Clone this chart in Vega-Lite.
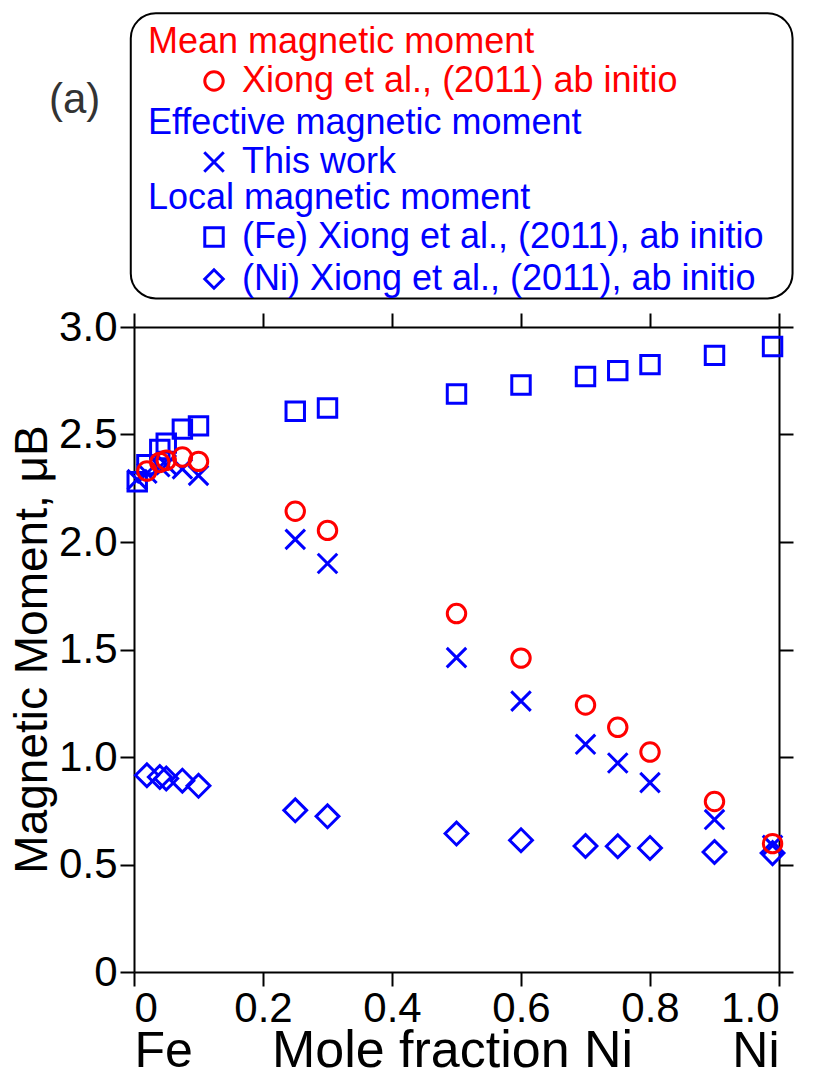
{
  "$schema": "https://vega.github.io/schema/vega-lite/v6.json",
  "width": 645,
  "height": 645,
  "autosize": {"type": "none"},
  "padding": {"left": 134, "top": 327, "right": 38, "bottom": 106},
  "background": "white",
  "config": {
    "font": "Liberation Sans",
    "view": {"stroke": null},
    "axis": {"grid": false, "domainColor": "black", "domainWidth": 2, "tickColor": "black", "tickWidth": 2, "tickSize": 14, "labelColor": "black", "labelFont": "Liberation Sans", "labelFontSize": 42, "titleColor": "black", "titleFont": "Liberation Sans", "titleFontWeight": "normal"},
    "legend": {"orient": "none", "direction": "vertical", "padding": 0, "titleFont": "Liberation Sans", "labelFont": "Liberation Sans", "titleFontSize": 36, "labelFontSize": 36, "titleFontWeight": "normal", "titleLimit": 700, "labelLimit": 700, "symbolStrokeWidth": 3, "symbolFillColor": "transparent", "symbolOffset": 48, "labelOffset": 10, "rowPadding": 6, "titlePadding": 2}
  },
  "data": {"values": [
    {"x": 0.005, "v": 2.28, "s": "Fe"},
    {"x": 0.02, "v": 2.36, "s": "Fe"},
    {"x": 0.04, "v": 2.43, "s": "Fe"},
    {"x": 0.05, "v": 2.46, "s": "Fe"},
    {"x": 0.075, "v": 2.525, "s": "Fe"},
    {"x": 0.1, "v": 2.54, "s": "Fe"},
    {"x": 0.25, "v": 2.608, "s": "Fe"},
    {"x": 0.3, "v": 2.623, "s": "Fe"},
    {"x": 0.5, "v": 2.688, "s": "Fe"},
    {"x": 0.6, "v": 2.73, "s": "Fe"},
    {"x": 0.7, "v": 2.77, "s": "Fe"},
    {"x": 0.75, "v": 2.797, "s": "Fe"},
    {"x": 0.8, "v": 2.825, "s": "Fe"},
    {"x": 0.9, "v": 2.868, "s": "Fe"},
    {"x": 0.99, "v": 2.909, "s": "Fe"},
    {"x": 0.02, "v": 0.915, "s": "Ni"},
    {"x": 0.04, "v": 0.907, "s": "Ni"},
    {"x": 0.05, "v": 0.9, "s": "Ni"},
    {"x": 0.075, "v": 0.89, "s": "Ni"},
    {"x": 0.1, "v": 0.866, "s": "Ni"},
    {"x": 0.25, "v": 0.752, "s": "Ni"},
    {"x": 0.3, "v": 0.724, "s": "Ni"},
    {"x": 0.5, "v": 0.644, "s": "Ni"},
    {"x": 0.6, "v": 0.613, "s": "Ni"},
    {"x": 0.7, "v": 0.586, "s": "Ni"},
    {"x": 0.75, "v": 0.585, "s": "Ni"},
    {"x": 0.8, "v": 0.577, "s": "Ni"},
    {"x": 0.9, "v": 0.558, "s": "Ni"},
    {"x": 0.99, "v": 0.553, "s": "Ni"},
    {"x": 0.005, "v": 2.29, "s": "Eff"},
    {"x": 0.02, "v": 2.32, "s": "Eff"},
    {"x": 0.04, "v": 2.35, "s": "Eff"},
    {"x": 0.05, "v": 2.36, "s": "Eff"},
    {"x": 0.075, "v": 2.34, "s": "Eff"},
    {"x": 0.1, "v": 2.31, "s": "Eff"},
    {"x": 0.25, "v": 2.012, "s": "Eff"},
    {"x": 0.3, "v": 1.9, "s": "Eff"},
    {"x": 0.5, "v": 1.462, "s": "Eff"},
    {"x": 0.6, "v": 1.26, "s": "Eff"},
    {"x": 0.7, "v": 1.059, "s": "Eff"},
    {"x": 0.75, "v": 0.972, "s": "Eff"},
    {"x": 0.8, "v": 0.881, "s": "Eff"},
    {"x": 0.9, "v": 0.709, "s": "Eff"},
    {"x": 0.99, "v": 0.589, "s": "Eff"},
    {"x": 0.02, "v": 2.33, "s": "Mean"},
    {"x": 0.04, "v": 2.37, "s": "Mean"},
    {"x": 0.05, "v": 2.38, "s": "Mean"},
    {"x": 0.075, "v": 2.395, "s": "Mean"},
    {"x": 0.1, "v": 2.375, "s": "Mean"},
    {"x": 0.25, "v": 2.143, "s": "Mean"},
    {"x": 0.3, "v": 2.054, "s": "Mean"},
    {"x": 0.5, "v": 1.667, "s": "Mean"},
    {"x": 0.6, "v": 1.46, "s": "Mean"},
    {"x": 0.7, "v": 1.242, "s": "Mean"},
    {"x": 0.75, "v": 1.138, "s": "Mean"},
    {"x": 0.8, "v": 1.023, "s": "Mean"},
    {"x": 0.9, "v": 0.793, "s": "Mean"},
    {"x": 0.99, "v": 0.597, "s": "Mean"}
  ]},
  "resolve": {
    "axis": {"x": "independent", "y": "independent"},
    "scale": {"shape": "independent"},
    "legend": {"shape": "independent"}
  },
  "layer": [
    {
      "data": {"values": [{}]},
      "mark": {"type": "rect", "fillOpacity": 0, "stroke": "black", "strokeWidth": 2, "cornerRadius": 25},
      "encoding": {
        "x": {"datum": -0.005, "type": "quantitative", "scale": {"domain": [0, 1]}, "axis": null},
        "x2": {"datum": 1.021},
        "y": {"datum": 4.459, "type": "quantitative", "scale": {"domain": [0, 3]}, "axis": null},
        "y2": {"datum": 3.133}
      }
    },
    {
      "data": {"values": [{}]},
      "mark": {"type": "text", "fontSize": 42, "font": "Liberation Sans", "color": "#333333", "baseline": "middle", "align": "center"},
      "encoding": {
        "x": {"datum": -0.092, "type": "quantitative", "scale": {"domain": [0, 1]}, "axis": null},
        "y": {"datum": 4.054, "type": "quantitative", "scale": {"domain": [0, 3]}, "axis": null},
        "text": {"value": "(a)"}
      }
    },
    {
      "transform": [{"filter": "datum.s == 'Fe' || datum.s == 'Ni'"}],
      "mark": {"type": "point", "filled": false, "color": "#0000FF", "strokeWidth": 3, "opacity": 1},
      "encoding": {
        "x": {"field": "x", "type": "quantitative", "scale": {"domain": [0, 1]},
          "axis": {"orient": "bottom", "values": [0, 1], "labelExpr": "datum.value == 0 ? 'Fe' : 'Ni'", "ticks": false, "tickSize": 0, "domain": false, "labelFontSize": 50, "labelPadding": 94, "labelBaseline": "alphabetic", "labelOverlap": false, "title": "Mole fraction Ni", "titleFontSize": 52, "titleX": 318, "titleY": 94, "titleBaseline": "alphabetic"}},
        "y": {"field": "v", "type": "quantitative", "scale": {"domain": [0, 3]}, "axis": null},
        "shape": {"field": "s", "type": "nominal", "scale": {"domain": ["Fe", "Ni"], "range": ["square", "diamond"]},
          "legend": {"legendX": 14, "legendY": -146, "title": "Local magnetic moment", "titleColor": "#0000FF", "labelColor": "#0000FF", "symbolStrokeColor": "#0000FF", "symbolSize": 340, "labelExpr": "datum.label == 'Fe' ? '(Fe) Xiong et al., (2011), ab initio' : '(Ni) Xiong et al., (2011), ab initio'"}},
        "size": {"condition": {"test": "datum.s == 'Ni'", "value": 520}, "value": 340}
      }
    },
    {
      "transform": [{"filter": "datum.s == 'Eff'"}],
      "mark": {"type": "point", "filled": false, "color": "#0000FF", "strokeWidth": 3, "size": 380, "opacity": 1},
      "encoding": {
        "x": {"field": "x", "type": "quantitative", "scale": {"domain": [0, 1]},
          "axis": {"orient": "top", "values": [0, 0.2, 0.4, 0.6, 0.8, 1.0], "labels": false, "title": null}},
        "y": {"field": "v", "type": "quantitative", "scale": {"domain": [0, 3]},
          "axis": {"orient": "right", "values": [0, 0.5, 1, 1.5, 2, 2.5, 3], "labels": false, "title": null}},
        "shape": {"field": "s", "type": "nominal", "scale": {"domain": ["Eff"], "range": ["M-1,-1L1,1M1,-1L-1,1"]},
          "legend": {"legendX": 14, "legendY": -221, "title": "Effective magnetic moment", "titleColor": "#0000FF", "labelColor": "#0000FF", "symbolStrokeColor": "#0000FF", "symbolSize": 380, "labelExpr": "'This work'"}}
      }
    },
    {
      "transform": [{"filter": "datum.s == 'Mean'"}],
      "mark": {"type": "point", "filled": false, "color": "#FF0000", "strokeWidth": 3, "size": 340, "opacity": 1},
      "encoding": {
        "x": {"field": "x", "type": "quantitative", "scale": {"domain": [0, 1]},
          "axis": {"orient": "bottom", "values": [0, 0.2, 0.4, 0.6, 0.8, 1.0], "labelExpr": "datum.value == 0 ? '0' : format(datum.value, '.1f')", "labelPadding": 2, "title": null}},
        "y": {"field": "v", "type": "quantitative", "scale": {"domain": [0, 3]},
          "axis": {"orient": "left", "values": [0, 0.5, 1, 1.5, 2, 2.5, 3], "labelExpr": "datum.value == 0 ? '0' : format(datum.value, '.1f')", "labelPadding": 3, "title": "Magnetic Moment, μB", "titleFontSize": 46, "titleX": -88, "titleY": 322, "titleBaseline": "alphabetic"}},
        "shape": {"field": "s", "type": "nominal", "scale": {"domain": ["Mean"], "range": ["circle"]},
          "legend": {"legendX": 14, "legendY": -302, "title": "Mean magnetic moment", "titleColor": "#FF0000", "labelColor": "#FF0000", "symbolStrokeColor": "#FF0000", "symbolSize": 340, "labelExpr": "'Xiong et al., (2011) ab initio'"}}
      }
    }
  ]
}
